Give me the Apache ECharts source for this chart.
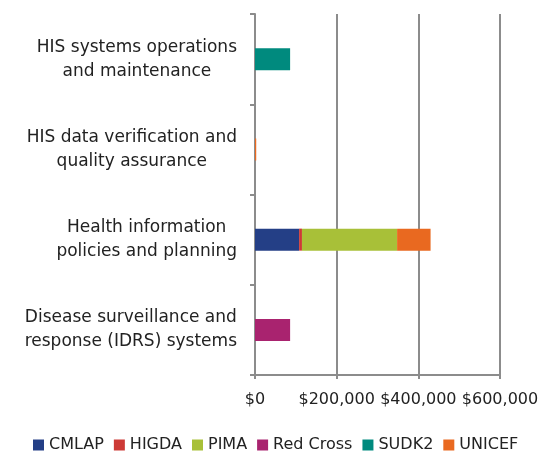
<!DOCTYPE html>
<html>
<head>
<meta charset="utf-8">
<script src="https://cdn.jsdelivr.net/npm/echarts@6/dist/echarts.min.js"></script>
<style>
html, body { margin: 0; padding: 0; background: #fff; }
#main { width: 545px; height: 456px; }
</style>
</head>
<body>
<div id="main"></div>
<script>
// 类目（自下而上）
var categories = [
	"Disease surveillance and\nresponse (IDRS) systems",
	"Health information\npolicies and planning",
	"HIS data verification and\nquality assurance",
	"HIS systems operations\nand maintenance"
];
// 各资助方数据
var cmlap = [0, 108000, 0, 0];
var higda = [0, 7000, 0, 0];
var pima = [0, 233000, 0, 0];
var redCross = [86000, 0, 0, 0];
var sudk2 = [0, 0, 0, 86000];
var unicef = [0, 82000, 3000, 0];
var xTicks = [0, 200000, 400000, 600000];

var seriesNames = ['CMLAP', 'HIGDA', 'PIMA', 'Red Cross', 'SUDK2', 'UNICEF'];
var seriesData = [cmlap, higda, pima, redCross, sudk2, unicef];
var colors = ['#243f86', '#cd3a36', '#a8c038', '#a9236f', '#008a7e', '#e96920'];

var font = 'DejaVu Sans';
var gray = '#8c8c8c';

var myChart = echarts.init(document.getElementById('main'));
var option = {
	animation: false,
	color: colors,
	textStyle: { fontFamily: font },
	legend: {
		bottom: -2,
		left: 28,
		itemWidth: 11,
		itemHeight: 11,
		itemGap: 10,
		icon: 'rect',
		textStyle: { fontSize: 16, color: '#222', fontFamily: font },
		data: seriesNames
	},
	grid: {
		left: 255,
		right: 45,
		top: 14,
		bottom: 81,
		containLabel: false
	},
	xAxis: {
		type: 'value',
		min: xTicks[0],
		max: xTicks[xTicks.length - 1],
		interval: 200000,
		axisLine: { show: true, lineStyle: { color: gray, width: 2 } },
		axisTick: { show: true, length: 4, lineStyle: { color: gray, width: 2 } },
		splitLine: { show: true, lineStyle: { color: gray, width: 2 } },
		axisLabel: {
			fontSize: 16,
			color: '#222',
			margin: 17,
			fontFamily: font,
			formatter: function(v) {
				return '$' + v.toLocaleString('en-US');
			}
		}
	},
	yAxis: {
		type: 'category',
		data: categories,
		axisLine: { show: true, lineStyle: { color: gray, width: 2 } },
		axisTick: { show: true, length: 5, lineStyle: { color: gray, width: 2 } },
		axisLabel: {
			align: 'right',
			margin: 18,
			fontFamily: font,
			// 每行居中，整体右对齐
			formatter: function(v) {
				return v.split('\n').map(function(s) { return '{c|' + s + '}'; }).join('\n');
			},
			rich: {
				c: { align: 'center', fontSize: 17, lineHeight: 24, color: '#222', fontFamily: font }
			}
		}
	},
	series: seriesNames.map(function(name, i) {
		return {
			name: name,
			type: 'bar',
			stack: 'total',
			barWidth: 22,
			data: seriesData[i]
		};
	})
};
myChart.setOption(option);
</script>
</body>
</html>
